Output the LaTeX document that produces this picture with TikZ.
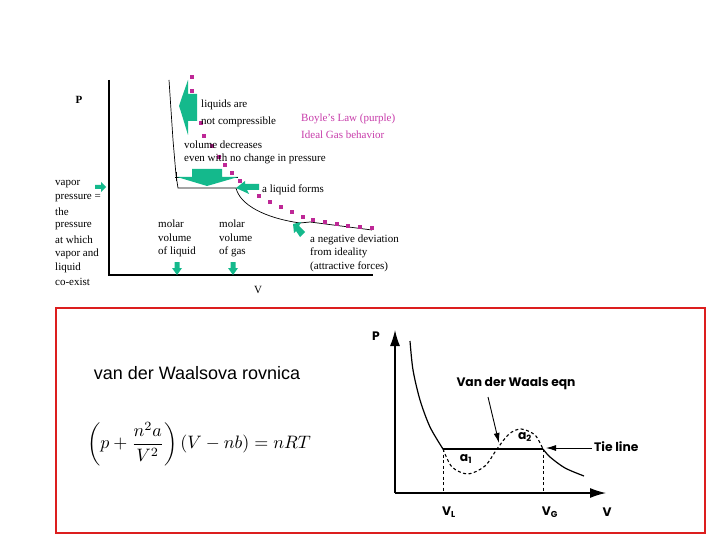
\documentclass[tikz,border=0pt]{standalone}
\usepackage{fontspec}
\usepackage{graphicx}
\setmainfont{Liberation Serif}
\newfontfamily\arialf{Liberation Sans}
\newfontfamily\gothic{Poppins}
\usetikzlibrary{arrows.meta}
\definecolor{tealgreen}{RGB}{20,185,140}
\definecolor{boyle}{RGB}{190,40,150}
\definecolor{boyletext}{RGB}{200,60,170}
\definecolor{boxred}{RGB}{220,30,30}
\begin{document}
\begin{tikzpicture}[x=1pt,y=-1pt,
  lbl/.style={anchor=west, inner sep=0pt, font=\fontsize{11}{12}\selectfont},
  gr/.style={fill=tealgreen, draw=none},
  dot/.style={fill=boyle, draw=none},
  thin line/.style={draw=black, line width=0.7pt},
  rg/.style={font=\gothic\bfseries\fontsize{12.3}{14}\selectfont, inner sep=0pt},
  axis/.style={line width=1.3pt, -{Latex[length=16pt,width=10pt]}},
  callout/.style={line width=0.9pt, -{Latex[length=10pt,width=6pt]}}]
\useasboundingbox (0,0) rectangle (720,540);
\fill[white] (0,0) rectangle (720,540);

% ---------- top graph ----------
\coordinate (yt) at (109,80);
\coordinate (org) at (109,275);
\coordinate (xr) at (373,275);
\draw[line width=1.4pt] (yt) -- (org) -- (xr);
\node[inner sep=0pt, font=\bfseries\fontsize{11}{12}\selectfont] (ptop) at (79,100) {P};
\node[inner sep=0pt, font=\fontsize{11}{12}\selectfont] (vtop) at (258,290) {V};

% isotherm
\draw[thin line] (169,80) -- (173,140) -- (176,175) -- (178,188) -- (236,188)
  .. controls (240,205) and (265,218) .. (300,223) -- (310,222) -- (372,230);
\draw[thin line] (175,177) -- (238,177);
\draw[thin line] (176,172) -- (176,181);

% Boyle dots
\foreach \x/\y in {192/77,192/91,201/123,204/136,212/146,219/157,225/165,232/173,240/181,259/196,270/202,281/207,292/212,303/217,313/220,325/222,337/224,348/226,360/227,372/228}
  \fill[dot] (\x,\y) ++(-1.6,-1.6) rectangle ++(3.2,3.2);

% green arrows
\fill[gr] (188,80) -- (181,100) -- (179,106) -- (181,112) -- (188,135) -- (188,121) -- (197,121) -- (197,94) -- (188,94) -- cycle;
\fill[gr] (192,169) -- (222,169) -- (222,177) -- (238,177) -- (207,186) -- (177,177) -- (192,177) -- cycle;
\fill[gr] (236,188) -- (245,181) -- (245,184) -- (259,184) -- (259,190) -- (247,190) -- (249,194) -- cycle;
\fill[gr] (293,224) -- (301,222) -- (299,226) -- (305,232) -- (300,237) -- (296,231) -- (294,233) -- cycle;
\fill[gr] (95,185) -- (101,185) -- (101,182) -- (106,187) -- (101,192) -- (101,189) -- (95,189) -- cycle;
\foreach \x in {177,233}
  \fill[gr] (\x-2.5,262) -- (\x+2.5,262) -- (\x+2.5,268) -- (\x+5,268) -- (\x,275) -- (\x-5,268) -- (\x-2.5,268) -- cycle;

% texts
\node[lbl] (liq1) at (201,105) {liquids are};
\node[lbl] (liq2) at (201,122) {not compressible};
\node[lbl, text=boyletext] (boy1) at (301,119) {Boyle's Law (purple)};
\node[lbl, text=boyletext] (boy2) at (301,135) {Ideal Gas behavior};
\node[lbl] (vol1) at (184,145) {volume decreases};
\node[lbl] (vol2) at (184,159) {even with no change in pressure};
\node[lbl] (lform) at (262,190) {a liquid forms};
\node[lbl] (neg1) at (310,240) {a negative deviation};
\node[lbl] (neg2) at (310,253) {from ideality};
\node[lbl] (neg3) at (310,267) {(attractive forces)};
\node[lbl] (ml1) at (158,224) {molar};
\node[lbl] (ml2) at (158,238) {volume};
\node[lbl] (ml3) at (158,252) {of liquid};
\node[lbl] (mg1) at (219,224) {molar};
\node[lbl] (mg2) at (219,238) {volume};
\node[lbl] (mg3) at (219,252) {of gas};
\node[lbl] (vp1) at (55,184) {vapor};
\node[lbl] (vp2) at (55,198) {pressure =};
\node[lbl] (vp3) at (55,212) {the};
\node[lbl] (vp4) at (55,226) {pressure};
\node[lbl] (vp5) at (55,240) {at which};
\node[lbl] (vp6) at (55,254) {vapor and};
\node[lbl] (vp7) at (55,268) {liquid};
\node[lbl] (vp8) at (55,282) {co-exist};

% ---------- bottom box ----------
\draw[boxred, line width=2.5pt] (56,308) rectangle (705,533);
\node[inner sep=0pt, font=\arialf\fontsize{18}{20}\selectfont] (title) at (197,373) {van der Waalsova rovnica};
\node[inner sep=0pt] (formula) at (199,444) {\scalebox{1.8}{$\displaystyle\left(p+\frac{n^2a}{V^2}\right)(V-nb)=nRT$}};

% right graph
\coordinate (o2) at (395,493);
\coordinate (ytop2) at (395,330);
\coordinate (xend2) at (606,493);
\draw[axis] (o2) -- (ytop2);
\draw[axis] (o2) -- (xend2);
\node[rg] (p2) at (376,336) {P};
\draw[line width=1.2pt] plot[smooth] coordinates {(410,341) (413,370) (420,400) (430,427) (443,449)};
\draw[line width=1.8pt] (443,449) -- (543,449);
\draw[line width=1.1pt, dashed, dash pattern=on 3pt off 2.5pt] plot[smooth] coordinates {(443,449) (452,467) (468,474) (485,466) (497,449) (509,434) (521,429) (535,435) (543,449)};
\draw[line width=1.2pt] plot[smooth] coordinates {(543,449) (550,457) (565,468) (584,476)};
\draw[line width=0.9pt, dashed, dash pattern=on 3pt off 2.5pt] (443,449) -- (443,493);
\draw[line width=0.9pt, dashed, dash pattern=on 3pt off 2.5pt] (543,449) -- (543,493);
\node[rg] (vl) at (449,512) {V\textsubscript{L}};
\node[rg] (vg) at (550,512) {V\textsubscript{G}};
\node[rg] (vv) at (607,512) {V};
\node[rg] (a1) at (466,459) {a\textsubscript{1}};
\node[rg] (a2) at (525,437) {a\textsubscript{2}};
\node[rg] (vdw) at (516,384) {Van der Waals eqn};
\coordinate (vdwfrom) at (488,397);
\coordinate (vdwtip) at (499,443);
\draw[callout] (vdwfrom) -- (vdwtip);
\node[rg, anchor=west] (tie) at (594,447) {Tie line};
\coordinate (tiefrom) at (592,448);
\coordinate (tietip) at (546,448);
\draw[callout] (tiefrom) -- (tietip);
\end{tikzpicture}
\end{document}
